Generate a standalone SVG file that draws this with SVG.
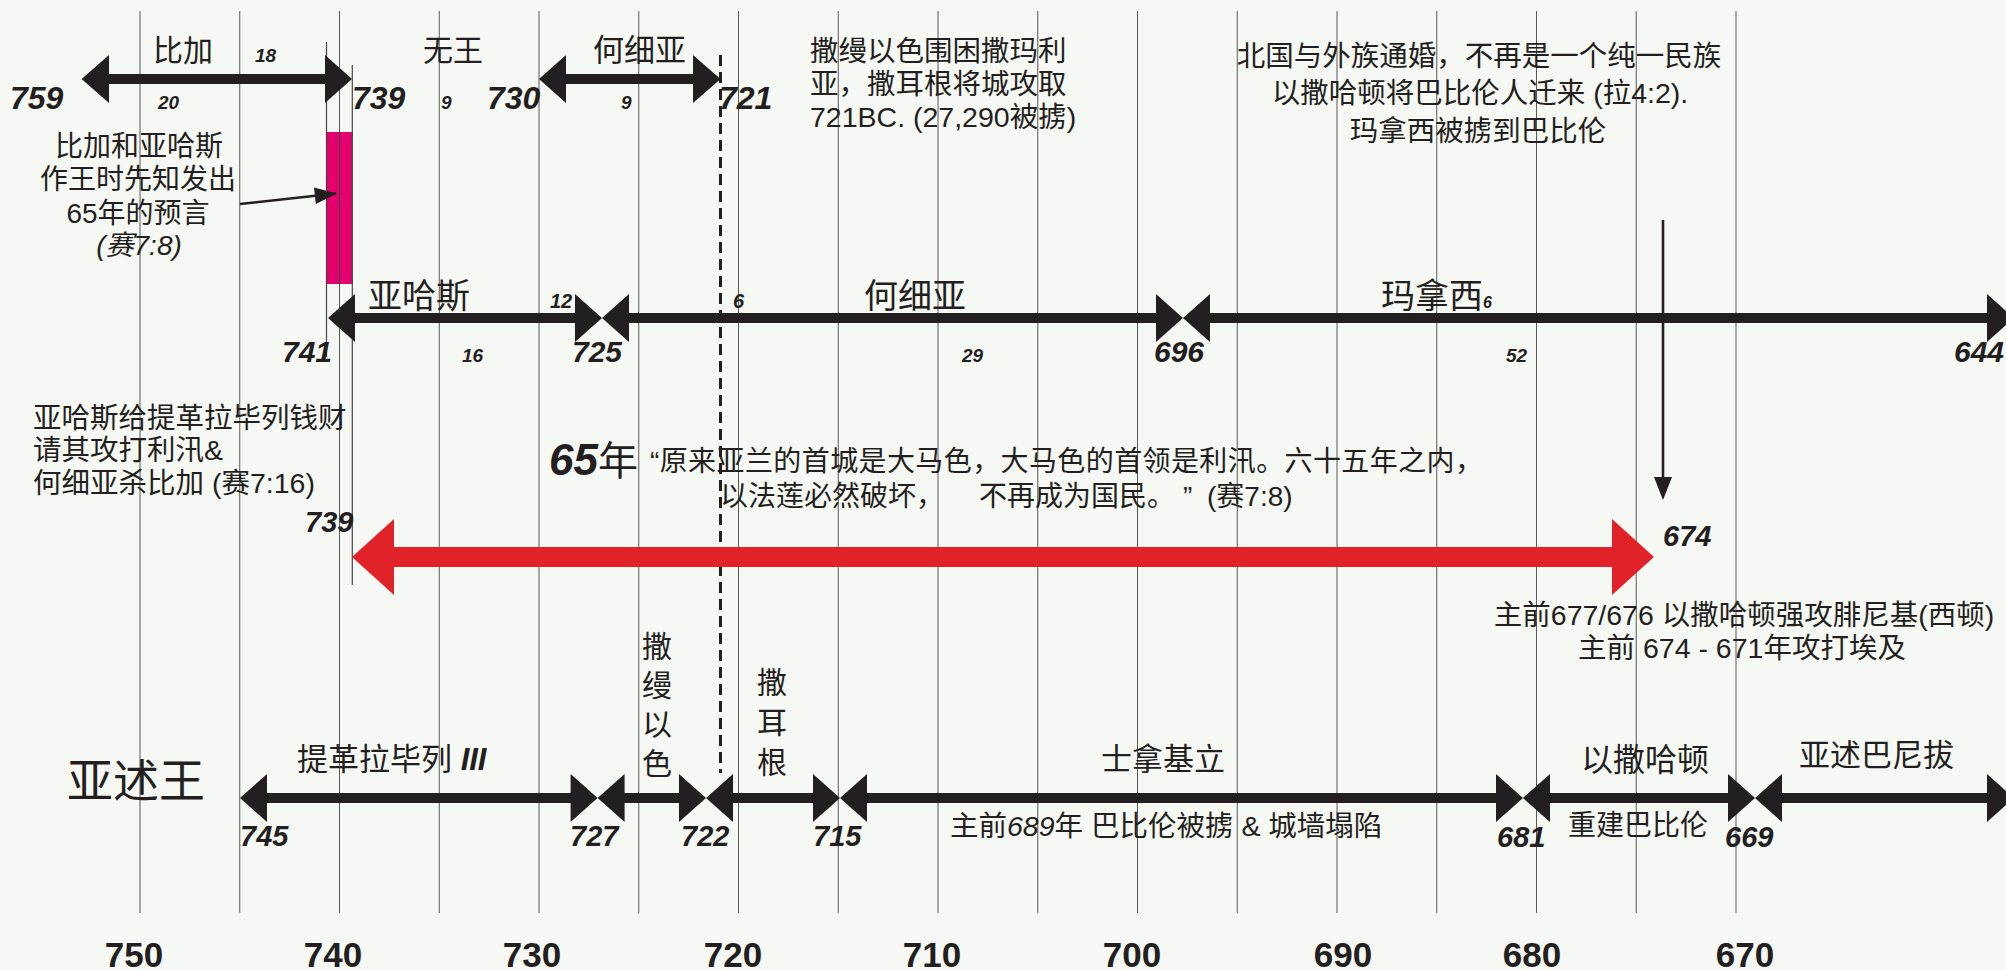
<svg xmlns="http://www.w3.org/2000/svg" width="2006" height="970" viewBox="0 0 2006 970">
<defs>
<style>
.bg{fill:#f6f8f3}
.grid{stroke:#5a5a5a;stroke-width:1;fill:none}
.thin{stroke:#444;stroke-width:1.2;fill:none}
.bar{fill:#231f20}
.t{font-family:"Liberation Sans","Noto Sans CJK SC",sans-serif;fill:#231f20}
.n{font-family:"Liberation Sans",sans-serif;font-weight:bold;font-style:italic;fill:#231f20}
.y{font-family:"Liberation Sans",sans-serif;font-weight:bold;fill:#231f20;font-size:35px;text-anchor:middle}
.c{text-anchor:middle}
</style>
</defs>
<rect class="bg" x="0" y="0" width="2006" height="970"/>

<g id="grid">
<path class="grid" d="M140 11V913M239.75 11V913M339.5 11V913M439.25 11V913M539 11V913M638.75 11V913M738.5 11V913M838.25 11V913M938 11V913M1037.75 11V913M1137.5 11V913M1237.25 11V913M1337 11V913M1436.75 11V913M1536.5 11V913M1636.25 11V913M1736 11V913"/>
</g>

<g id="prophecy-bar">
<rect x="326.5" y="132" width="25.8" height="152" fill="#e5006d"/>
<path class="thin" d="M339.5 132V284"/>
<path class="thin" d="M326.5 42V357M352.3 65V585"/>
</g>

<g id="connectors">
<path d="M720.5 55V773" stroke="#231f20" stroke-width="3" stroke-dasharray="11 6" fill="none"/>
<polygon class="bar" points="81.6,79 109,55 109,74 325,74 325,55 352,79 325,103 325,84 109,84 109,103"/>
<polygon class="bar" points="539,79 566,55 566,74 693,74 693,55 720.5,79 693,103 693,84 566,84 566,103"/>
<polygon class="bar" points="328,318 355,294 355,313 575,313 575,294 602,318 575,342 575,323 355,323 355,342"/>
<polygon class="bar" points="602,318 629,294 629,313 1156,313 1156,294 1183,318 1156,342 1156,323 629,323 629,342"/>
<polygon class="bar" points="1183,318 1210,294 1210,313 1987,313 1987,294 2014,318 1987,342 1987,323 1210,323 1210,342"/>
<polygon class="bar" points="240,798 267,774 267,793 570.6,793 570.6,774 597.6,798 570.6,822 570.6,803 267,803 267,822"/>
<polygon class="bar" points="597.6,798 624.6,774 624.6,793 679,793 679,774 706,798 679,822 679,803 624.6,803 624.6,822"/>
<polygon class="bar" points="706,798 733,774 733,793 813,793 813,774 840,798 813,822 813,803 733,803 733,822"/>
<polygon class="bar" points="840,798 867,774 867,793 1496,793 1496,774 1523,798 1496,822 1496,803 867,803 867,822"/>
<polygon class="bar" points="1523,798 1550,774 1550,793 1728,793 1728,774 1755,798 1728,822 1728,803 1550,803 1550,822"/>
<polygon class="bar" points="1755,798 1782,774 1782,793 1987,793 1987,774 2014,798 1987,822 1987,803 1782,803 1782,822"/>
<polygon fill="#e12228" points="352,557 394,519 394,547 1612,547 1612,519 1654,557 1612,595 1612,567 394,567 394,595"/>
<path d="M240 204L336 193.5" stroke="#231f20" stroke-width="2.6" fill="none"/>
<polygon class="bar" points="337,193.5 314,187.5 315.8,204"/>
<path d="M1663 220V478" stroke="#231f20" stroke-width="2.6" fill="none"/>
<polygon class="bar" points="1654,477 1672,477 1663,500"/>
</g>

<g id="israel-top">
<text class="n" x="10" y="109" font-size="32">759</text>
<text class="t" x="153" y="61" font-size="30">比加</text>
<text class="n" x="255" y="62" font-size="19">18</text>
<text class="n" x="158" y="109" font-size="19">20</text>
<text class="n" x="352" y="109" font-size="32">739</text>
<text class="t" x="423" y="61" font-size="30">无王</text>
<text class="n" x="441" y="109" font-size="19">9</text>
<text class="n" x="487" y="109" font-size="32">730</text>
<text class="t" x="593" y="61" font-size="31">何细亚</text>
<text class="n" x="621" y="109" font-size="19">9</text>
<text class="n" x="719" y="109" font-size="32">721</text>
</g>

<g id="note-samaria">
<text class="t" x="810" y="61" font-size="28.5">撒缦以色围困撒玛利</text>
<text class="t" x="810" y="94" font-size="28.5">亚，撒耳根将城攻取</text>
<text class="t" x="810" y="127" font-size="28.5">721BC. (27,290被掳)</text>
</g>

<g id="note-north">
<text class="t c" x="1479" y="66" font-size="28.5">北国与外族通婚，不再是一个纯一民族</text>
<text class="t c" x="1480" y="103" font-size="28.5">以撒哈顿将巴比伦人迁来 (拉4:2).</text>
<text class="t c" x="1478" y="141" font-size="28.5">玛拿西被掳到巴比伦</text>
</g>

<g id="note-prophecy">
<text class="t c" x="139" y="156" font-size="28">比加和亚哈斯</text>
<text class="t c" x="138" y="189" font-size="28">作王时先知发出</text>
<text class="t c" x="138" y="223" font-size="28">65年的预言</text>
<text class="t c" x="139" y="255" font-size="28" font-style="italic">(赛7:8)</text>
</g>

<g id="judah">
<text class="t" x="368" y="308" font-size="34">亚哈斯</text>
<text class="n" x="550" y="308" font-size="20">12</text>
<text class="n" x="282" y="362" font-size="30">741</text>
<text class="n" x="462" y="362" font-size="19">16</text>
<text class="n" x="572" y="362" font-size="30">725</text>
<text class="n" x="733" y="308" font-size="20">6</text>
<text class="t" x="864" y="308" font-size="34">何细亚</text>
<text class="n" x="962" y="362" font-size="19">29</text>
<text class="n" x="1154" y="362" font-size="30">696</text>
<text class="t" x="1381" y="308" font-size="34">玛拿西<tspan class="n" font-size="16" font-weight="normal">6</tspan></text>
<text class="n" x="1506" y="362" font-size="19">52</text>
<text class="n" x="1954" y="362" font-size="30">644</text>
</g>

<g id="note-tiglath">
<text class="t" x="33" y="428" font-size="28.5">亚哈斯给提革拉毕列钱财</text>
<text class="t" x="33" y="460" font-size="28.5">请其攻打利汛&amp;</text>
<text class="t" x="33" y="493" font-size="28.5">何细亚杀比加 (赛7:16)</text>
</g>

<g id="sixty-five">
<text class="n" x="549" y="475" font-size="44">65</text>
<text class="t" x="598" y="475" font-size="40">年</text>
<text class="t" x="650" y="471" font-size="28" textLength="833">“原来亚兰的首城是大马色，大马色的首领是利汛。六十五年之内，</text>
<text class="t" y="506" font-size="28"><tspan x="720">以法莲必然破坏，</tspan><tspan x="979">不再成为国民。</tspan><tspan x="1183">”</tspan><tspan x="1207">(赛7:8)</tspan></text>
<text class="n" x="305" y="532" font-size="29">739</text>
<text class="n" x="1663" y="546" font-size="29">674</text>
</g>

<g id="note-esarhaddon">
<text class="t c" x="1744" y="625" font-size="28.5">主前677/676 以撒哈顿强攻腓尼基(西顿)</text>
<text class="t c" x="1742" y="658" font-size="28.5">主前 674 - 671年攻打埃及</text>
</g>

<g id="assyria">
<text class="t" x="67" y="797" font-size="46">亚述王</text>
<text class="t" x="297" y="770" font-size="31">提革拉毕列 <tspan class="n">III</tspan></text>
<text class="t c" font-size="30"><tspan x="657" y="657">撒</tspan><tspan x="657" y="696">缦</tspan><tspan x="657" y="735">以</tspan><tspan x="657" y="774">色</tspan></text>
<text class="t c" font-size="30"><tspan x="772" y="693">撒</tspan><tspan x="772" y="733">耳</tspan><tspan x="772" y="773">根</tspan></text>
<text class="t" x="1101" y="770" font-size="31">士拿基立</text>
<text class="t" x="950" y="836" font-size="28.5">主前<tspan font-style="italic">689</tspan>年 巴比伦被掳 &amp; 城墙塌陷</text>
<text class="t" x="1581" y="771" font-size="32">以撒哈顿</text>
<text class="t" x="1568" y="835" font-size="28">重建巴比伦</text>
<text class="t" x="1799" y="766" font-size="31">亚述巴尼拔</text>
<text class="n" x="240" y="846" font-size="29">745</text>
<text class="n" x="570" y="846" font-size="29">727</text>
<text class="n" x="681" y="846" font-size="29">722</text>
<text class="n" x="813" y="846" font-size="29">715</text>
<text class="n" x="1497" y="847" font-size="29">681</text>
<text class="n" x="1725" y="847" font-size="29">669</text>
</g>

<g id="axis">
<text class="y" x="134" y="967">750</text>
<text class="y" x="333" y="967">740</text>
<text class="y" x="532" y="967">730</text>
<text class="y" x="733" y="967">720</text>
<text class="y" x="932" y="967">710</text>
<text class="y" x="1132" y="967">700</text>
<text class="y" x="1343" y="967">690</text>
<text class="y" x="1532" y="967">680</text>
<text class="y" x="1745" y="967">670</text>
</g>
</svg>
